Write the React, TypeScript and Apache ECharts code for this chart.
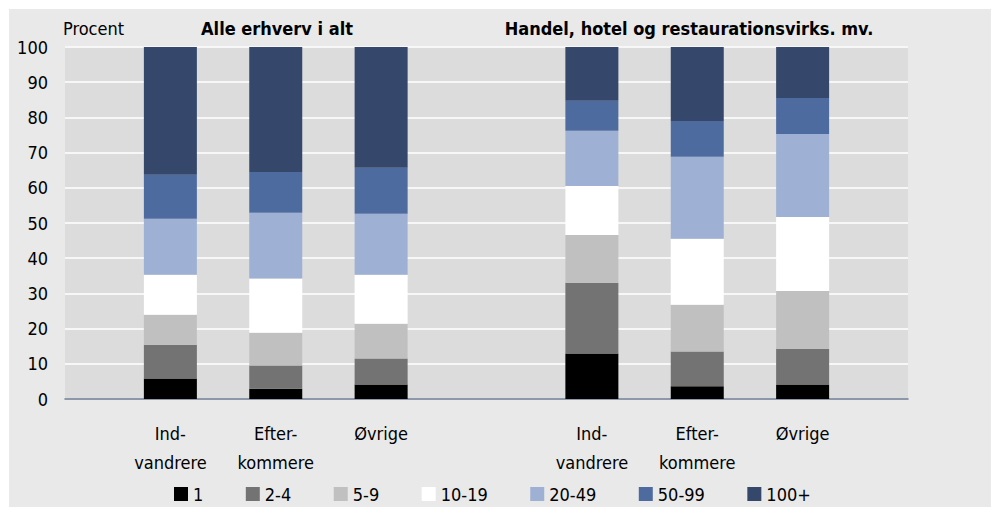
import React, { useEffect, useRef } from "react";
import * as echarts from "echarts";

const categories = ["", "Ind-\nvandrere", "Efter-\nkommere", "Øvrige", "", "Ind-\nvandrere", "Efter-\nkommere", "Øvrige", ""];
const sizeClasses = ["1", "2-4", "5-9", "10-19", "20-49", "50-99", "100+"];
const colors = ["#000000", "#737373", "#c0c0c0", "#ffffff", "#9eb0d4", "#4e6ba0", "#35476b"];

// values per size class, per category (null for spacer categories)
const s1 = [null, 5.8, 2.9, 4.1, null, 12.9, 3.6, 4.1, null];
const s2_4 = [null, 9.6, 6.6, 7.4, null, 20.1, 9.9, 10.2, null];
const s5_9 = [null, 8.5, 9.3, 9.9, null, 13.6, 13.3, 16.4, null];
const s10_19 = [null, 11.4, 15.4, 13.9, null, 13.9, 18.7, 21.0, null];
const s20_49 = [null, 15.9, 18.7, 17.3, null, 15.7, 23.3, 23.6, null];
const s50_99 = [null, 12.5, 11.6, 13.1, null, 8.5, 10.2, 10.2, null];
const s100 = [null, 36.3, 35.5, 34.3, null, 15.3, 21.0, 14.5, null];
const seriesValues = [s1, s2_4, s5_9, s10_19, s20_49, s50_99, s100];

const yTicks = { min: 0, max: 100, interval: 10 };
const titles = ["Procent", "Alle erhverv i alt", "Handel, hotel og restaurationsvirks. mv."];

const FONT = "'Liberation Sans Narrow', 'DejaVu Sans Condensed', 'Noto Sans', sans-serif";

export default function App() {
  const ref = useRef<HTMLDivElement>(null);
  useEffect(() => {
    document.body.style.margin = "0";
    const chart = echarts.init(ref.current!, null, { renderer: "svg" });
    chart.setOption({
      animation: false,
      backgroundColor: "#ffffff",
      textStyle: { fontFamily: FONT },
      graphic: [
        { type: "rect", z: -100, shape: { x: 9, y: 9, width: 982, height: 498 }, style: { fill: "#e9e9e9" } },
        { type: "text", x: 63, y: 28, style: { text: titles[0], fontFamily: FONT, fontSize: 18, fill: "#000", verticalAlign: "middle", align: "left" } },
        { type: "text", x: 277, y: 28, style: { text: titles[1], fontFamily: FONT, fontSize: 18, fontWeight: "bold", fill: "#000", verticalAlign: "middle", align: "center" } },
        { type: "text", x: 689, y: 28, style: { text: titles[2], fontFamily: FONT, fontSize: 18, fontWeight: "bold", fill: "#000", verticalAlign: "middle", align: "center" } },
      ],
      grid: { left: 65, right: 87, top: 47, bottom: 114, show: true, backgroundColor: "#dcdcdc", borderWidth: 0, containLabel: false },
      legend: {
        data: sizeClasses,
        top: 485,
        left: 174,
        padding: 0,
        icon: "rect",
        itemWidth: 14,
        itemHeight: 14,
        itemGap: 42.5,
        textStyle: { fontFamily: FONT, fontSize: 18, color: "#000" },
      },
      xAxis: {
        type: "category",
        data: categories,
        boundaryGap: false,
        axisTick: { show: false },
        axisLine: { lineStyle: { color: "#6b7891", width: 1.5 } },
        axisLabel: { interval: 0, fontFamily: FONT, fontSize: 18, lineHeight: 29, color: "#000", margin: 20 },
        splitLine: { show: false },
      },
      yAxis: {
        type: "value",
        min: yTicks.min,
        max: yTicks.max,
        interval: yTicks.interval,
        axisLine: { show: false },
        axisTick: { show: false },
        axisLabel: { fontFamily: FONT, fontSize: 18, color: "#000", margin: 17 },
        splitLine: { show: true, lineStyle: { color: "#f7f7f7", width: 2 } },
      },
      series: seriesValues.map((vals, i) => ({
        name: sizeClasses[i],
        type: "bar",
        stack: "total",
        barWidth: 53,
        data: vals,
        itemStyle: { color: colors[i] },
        emphasis: { disabled: true },
      })),
    });
    return () => chart.dispose();
  }, []);
  return <div ref={ref} style={{ width: 995, height: 513, position: "fixed", left: 0, top: 0 }} />;
}
